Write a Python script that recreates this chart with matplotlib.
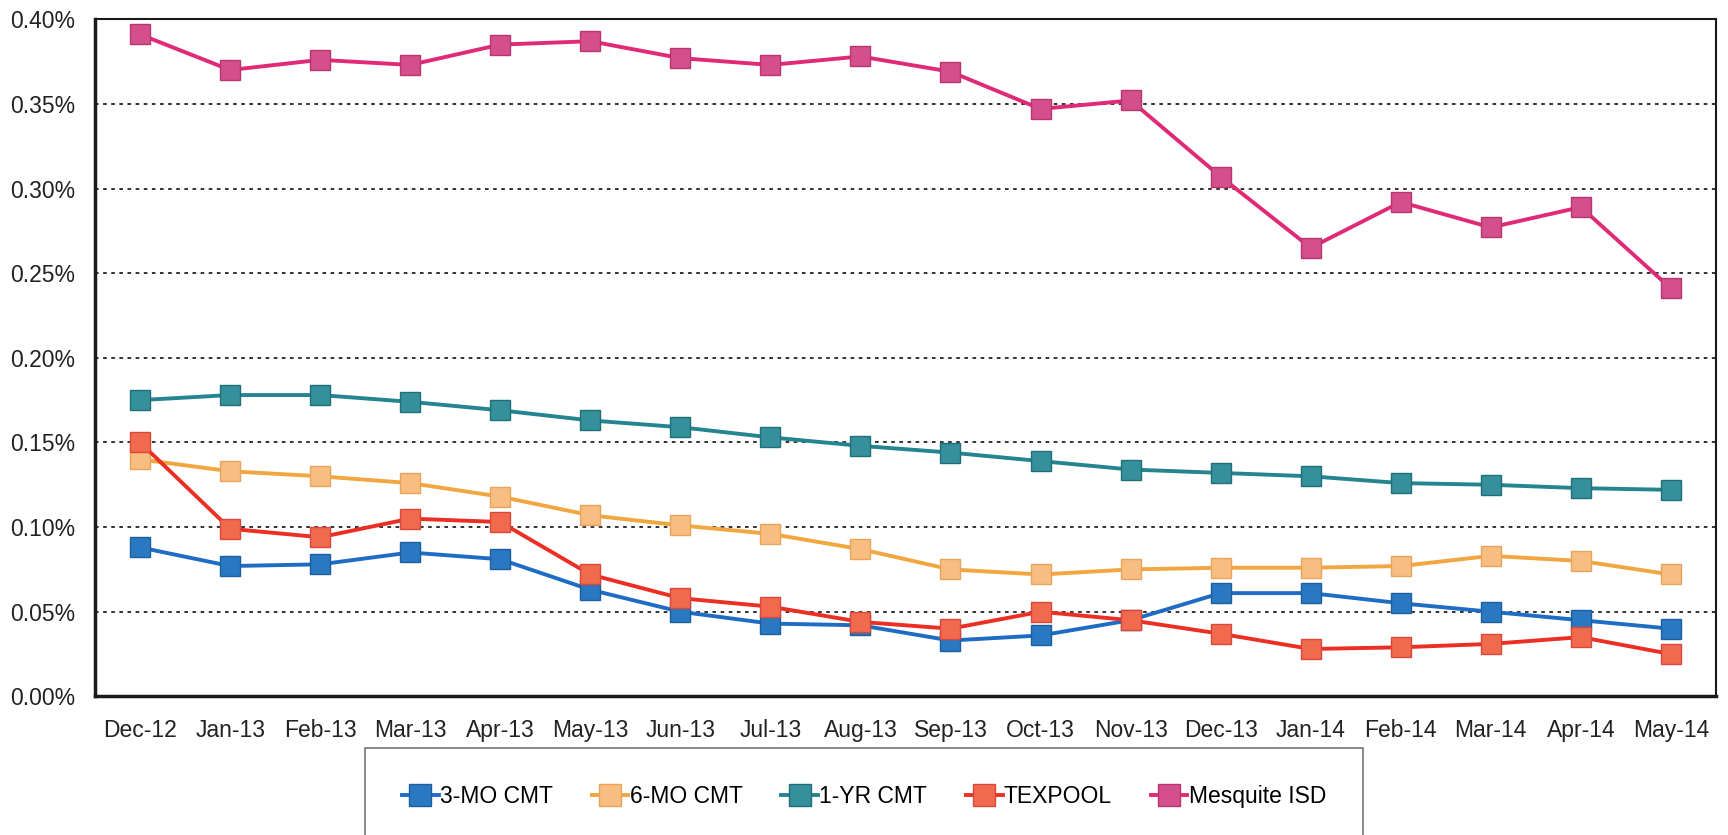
#!/usr/bin/python3

import numpy as np

import matplotlib
matplotlib.use('Agg')
from matplotlib import pyplot as plt
from matplotlib import ticker as mticker

# Month labels on the x axis
months = ['Dec-12', 'Jan-13', 'Feb-13', 'Mar-13', 'Apr-13', 'May-13',
          'Jun-13', 'Jul-13', 'Aug-13', 'Sep-13', 'Oct-13', 'Nov-13',
          'Dec-13', 'Jan-14', 'Feb-14', 'Mar-14', 'Apr-14', 'May-14']

# Yields in percent
cmt_3mo = [0.088, 0.077, 0.078, 0.085, 0.081, 0.063, 0.050, 0.043, 0.042,
           0.033, 0.036, 0.045, 0.061, 0.061, 0.055, 0.050, 0.045, 0.040]
cmt_6mo = [0.140, 0.133, 0.130, 0.126, 0.118, 0.107, 0.101, 0.096, 0.087,
           0.075, 0.072, 0.075, 0.076, 0.076, 0.077, 0.083, 0.080, 0.072]
cmt_1yr = [0.175, 0.178, 0.178, 0.174, 0.169, 0.163, 0.159, 0.153, 0.148,
           0.144, 0.139, 0.134, 0.132, 0.130, 0.126, 0.125, 0.123, 0.122]
texpool = [0.150, 0.099, 0.094, 0.105, 0.103, 0.072, 0.058, 0.053, 0.044,
           0.040, 0.050, 0.045, 0.037, 0.028, 0.029, 0.031, 0.035, 0.025]
mesquite = [0.391, 0.370, 0.376, 0.373, 0.385, 0.387, 0.377, 0.373, 0.378,
            0.369, 0.347, 0.352, 0.307, 0.265, 0.292, 0.277, 0.289, 0.241]

labels = ['3-MO CMT', '6-MO CMT', '1-YR CMT', 'TEXPOOL', 'Mesquite ISD']

FONT = ['Liberation Sans', 'DejaVu Sans']

def main():

    plt.rcParams['font.family'] = FONT

    series = [cmt_3mo, cmt_6mo, cmt_1yr, texpool, mesquite]
    # (line colour, marker face, marker edge)
    styles = [('#1f6cc4', '#2a78c2', '#1d5f9e'),
              ('#f2a640', '#f8bd80', '#e9a45c'),
              ('#24848f', '#35909c', '#1f6f78'),
              ('#ec2f24', '#f26a4e', '#d9483a'),
              ('#e02a78', '#d4508c', '#b8356f')]

    fig = plt.figure(figsize=(17.28, 8.35), dpi=100)
    ax = fig.add_axes([0.055, 0.166, 0.938, 0.811])
    x = np.arange(len(months))

    for vals, lab, (lc, mf, me) in zip(series, labels, styles):
        ax.plot(x, vals, color=lc, lw=2.8, marker='s', markersize=15,
                markerfacecolor=mf, markeredgecolor=me, markeredgewidth=1.0,
                label=lab)

    ax.set_xlim(-0.5, len(months) - 0.5)
    ax.set_ylim(0, 0.40)
    ax.set_xticks(x)
    ax.set_xticklabels(months)
    ax.yaxis.set_major_locator(mticker.MultipleLocator(0.05))
    ax.yaxis.set_major_formatter(mticker.FuncFormatter(lambda v, p: '%.2f%%' % v))
    ax.tick_params(axis='both', length=0, labelsize=16.5, colors='#222222')
    ax.tick_params(axis='x', pad=16)
    ax.tick_params(axis='y', pad=14)

    # Dotted gridlines between the spines only
    for v in np.arange(0.05, 0.40, 0.05):
        ax.axhline(v, color='#222222', lw=1.3, ls=(0, (2, 2.5)), zorder=0)

    for s in ax.spines.values():
        s.set_color('#1a1a1a')
    ax.spines['left'].set_linewidth(2.5)
    ax.spines['bottom'].set_linewidth(2.5)
    ax.spines['top'].set_linewidth(1.5)
    ax.spines['right'].set_linewidth(1.5)

    # Legend box runs off the bottom edge, as in the scanned original
    leg = fig.legend(loc='upper center', bbox_to_anchor=(0.5, 1 - 748 / 835),
                     ncol=5, fontsize=16.5, frameon=True, fancybox=False,
                     borderpad=1.6, handlelength=1.6, handletextpad=0.05,
                     columnspacing=1.7, borderaxespad=0, markerscale=1.1)
    leg.get_frame().set_edgecolor('#555555')
    leg.get_frame().set_linewidth(1.2)

    fname = 'out.png'
    print('Writing %s' % (fname))
    fig.savefig(fname, dpi=100)
    plt.close()

if __name__ == '__main__': main()
